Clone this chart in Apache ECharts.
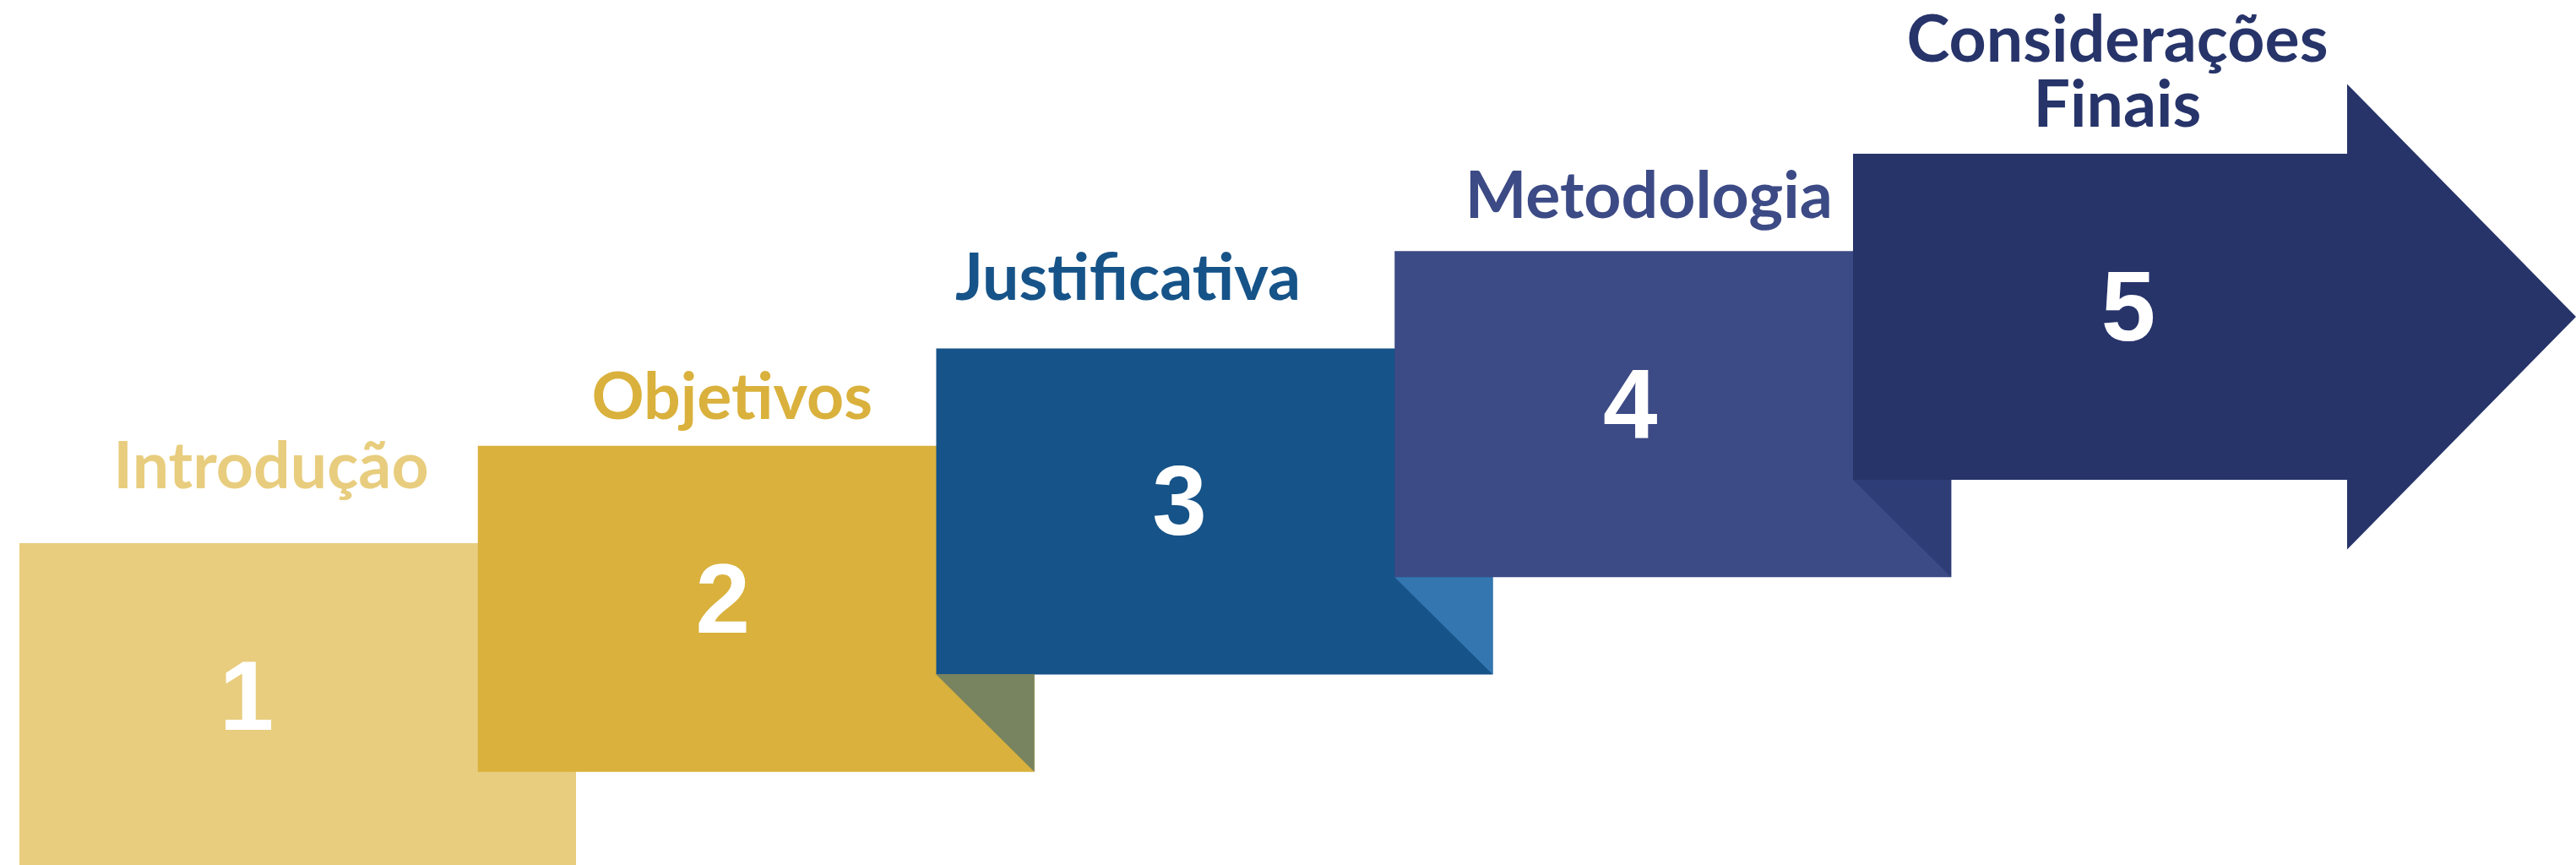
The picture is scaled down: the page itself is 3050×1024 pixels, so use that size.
<!DOCTYPE html>
<html><head><meta charset="utf-8">
<script src="https://cdn.jsdelivr.net/npm/echarts@6/dist/echarts.min.js"></script>
<style>html,body{margin:0;padding:0;background:#ffffff}#c{width:3050px;height:1024px}</style>
</head><body><div id="c"></div>
<script>
// ---- data ----
const stages = ['Introdução', 'Objetivos', 'Justificativa', 'Metodologia', 'Considerações\nFinais'];
const stepNumbers = ['1', '2', '3', '4', '5'];
const stepIndex = [0, 1, 2, 3, 4];
const levels = [1, 2, 3, 4, 5];

// ---- styles ----
const boxColors = ['#E8CD7E', '#D9B13C', '#165388', '#3C4A85', '#27346A'];
const foldColors = [null, null, '#78835F', '#3476B0', '#2F3D77'];
const labelColors = ['#E8CD7E', '#D9B13C', '#165388', '#3C4A85', '#27346A'];

// ---- layout (axis units: 1 x-unit = one step, 1 y-unit = one level) ----
const BOX_W = 1.2142, BOX_H = 3.349;
const ARROW_BODY = 1.0779, ARROW_TIP = 1.5772, HEAD_OVER = 0.716;
const numOffsetX = [269, 290, 288, 279, 326];   // px from box left
const NUM_BASE = 229;                            // px below box top
const labelOffset = [[298, -60], [301, -27], [227, -53], [301, -34], [313, -27]]; // px: centre x, last baseline
const LABEL_SIZE = 77, LABEL_LH = 77, NUM_SIZE = 116;

const seriesData = stepIndex.map((s, i) => [s, levels[i], i]);

function renderItem(params, api) {
  const x = api.value(0), lv = api.value(1), i = api.value(2);
  const n = stages.length;
  const top = lv, bot = lv - BOX_H;
  const P = (a, b) => api.coord([a, b]);
  const children = [];
  let pts;
  if (i === n - 1) {
    const mid = (top + bot) / 2;
    pts = [P(x, top), P(x + ARROW_BODY, top), P(x + ARROW_BODY, top + HEAD_OVER),
           P(x + ARROW_TIP, mid), P(x + ARROW_BODY, bot - HEAD_OVER), P(x + ARROW_BODY, bot), P(x, bot)];
  } else {
    pts = [P(x, top), P(x + BOX_W, top), P(x + BOX_W, bot), P(x, bot)];
  }
  children.push({ type: 'polygon', shape: { points: pts }, style: { fill: boxColors[i] } });
  if (foldColors[i]) {
    const pr = x - 1 + BOX_W, pb = (lv - 1) - BOX_H;
    children.push({ type: 'polygon', shape: { points: [P(x, bot), P(pr, bot), P(pr, pb)] },
      style: { fill: foldColors[i] } });
  }
  const tl = P(x, top);
  children.push({ type: 'text', style: {
    text: stepNumbers[i], x: tl[0] + numOffsetX[i], y: tl[1] + NUM_BASE - 0.3465 * NUM_SIZE,
    fill: '#ffffff', font: 'bold ' + NUM_SIZE + 'px "Liberation Sans", Arial, sans-serif',
    align: 'center', verticalAlign: 'middle' } });
  const lines = stages[i].split('\n').length;
  children.push({ type: 'text', style: {
    text: stages[i], x: tl[0] + labelOffset[i][0],
    y: tl[1] + labelOffset[i][1] - 0.387 * LABEL_SIZE - (lines - 1) * LABEL_LH / 2,
    fill: labelColors[i], font: 'bold ' + LABEL_SIZE + 'px Lato, sans-serif',
    lineHeight: LABEL_LH, align: 'center', verticalAlign: 'middle' } });
  return { type: 'group', children };
}

const chart = echarts.init(document.getElementById('c'), null, { renderer: 'canvas' });
chart.setOption({
  animation: false,
  backgroundColor: '#ffffff',
  grid: { left: 0, right: 0, top: 0, bottom: 0 },
  xAxis: { type: 'value', min: -0.04238, max: 5.5772, show: false },
  yAxis: { type: 'value', min: -2.3059, max: 6.5792, show: false },
  series: [{ type: 'custom', renderItem, data: seriesData, clip: false, silent: true }]
});
</script></body></html>
